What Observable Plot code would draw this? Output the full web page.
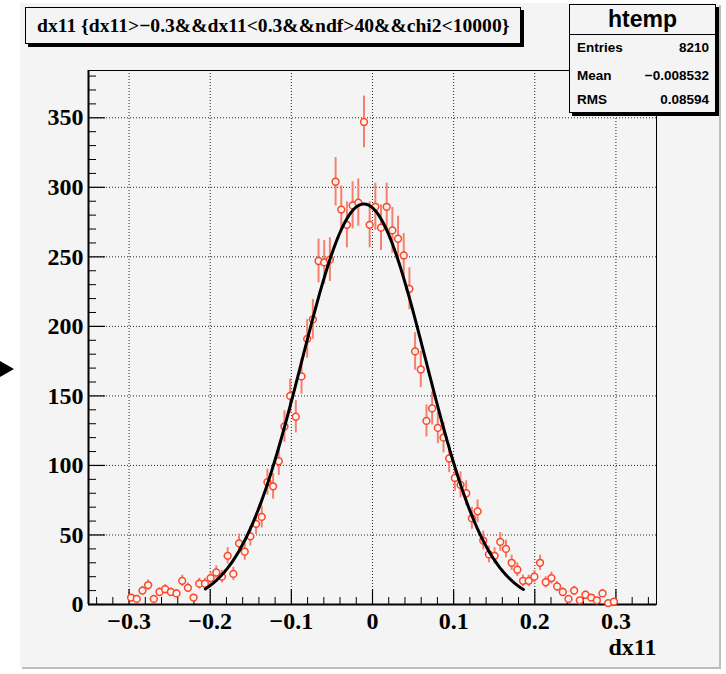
<!DOCTYPE html>
<html><head><meta charset="utf-8">
<script src="https://cdn.jsdelivr.net/npm/d3@7"></script>
<script src="https://cdn.jsdelivr.net/npm/@observablehq/plot@0.6"></script>
<style>
html,body{margin:0;padding:0;background:#fff;}
#wrap{position:relative;width:726px;height:674px;overflow:hidden;background:#fff;}
#pad{position:absolute;left:20px;top:3px;width:699px;height:664px;background:#f4f4f4;box-shadow:2px 2px 0 #bdbdbd;}
#arrow{position:absolute;left:0;top:361px;width:0;height:0;border-top:8px solid transparent;border-bottom:8px solid transparent;border-left:14px solid #000;}
#chart{position:absolute;left:0;top:0;}
#title{position:absolute;left:25px;top:7px;width:496px;height:37px;background:#f4f4f4;border:1px solid #000;box-shadow:3px 3px 0 #000;box-sizing:border-box;font:bold 19.6px "Liberation Serif",serif;line-height:35px;padding-left:11px;white-space:nowrap;color:#000;}
#stats{position:absolute;left:569px;top:4px;width:147px;height:109px;background:#f4f4f4;border:1px solid #000;box-shadow:3px 3px 0 #000;box-sizing:border-box;font-family:"Liberation Sans",Arial,sans-serif;color:#000;}
#stats .hd{position:absolute;left:0;top:0;width:100%;height:29px;border-bottom:1px solid #000;text-align:center;font-weight:bold;font-size:23px;line-height:29px;}
#stats .row{position:absolute;left:7px;right:6px;height:16px;line-height:16px;font-weight:bold;font-size:13.5px;}
#stats .row .v{position:absolute;right:0;top:0;}
</style></head>
<body>
<div id="wrap">
  <div id="pad"></div>
  <div id="arrow"></div>
  <div id="chart"></div>
  <div id="title"></div>
  <div id="stats"></div>
</div>
<script>
// ---- data ----
const titleText = "dx11 {dx11>\u22120.3&&dx11<0.3&&ndf>40&&chi2<10000}";
const histName = "htemp";
const statLabels = ["Entries", "Mean", "RMS"];
const statValues = ["8210", "\u22120.008532", "0.08594"];
const xTitle = "dx11";

// histogram binning: 100 bins on [-0.35, 0.35]; counts start at bin 7
const xMin = -0.35, xMax = 0.35, binWidth = 0.007, firstBin = 7;
const counts = [5,4,10,14,4,9,11,9,8,17,12,5,15,15,19,23,20,35,22,44,38,
  49,58,63,88,85,103,128,150,135,164,191,205,247,246,248,304,284,273,287,289,
  347,273,286,271,286,269,263,251,227,182,169,132,141,127,120,105,91,86,80,62,
  67,46,36,35,45,40,30,25,17,17,20,30,16,19,13,9,4,10,3,7,5,3,8,1,2];

// gaussian fit parameters and range
const fitConstant = 288, fitMean = -0.0106, fitSigma = 0.0767;
const fitRange = [-0.206, 0.186];

const xMajorTicks = [-0.3, -0.2, -0.1, 0, 0.1, 0.2, 0.3];
const xTickLabels = ["\u22120.3", "\u22120.2", "\u22120.1", "0", "0.1", "0.2", "0.3"];
const yMajorTicks = [0, 50, 100, 150, 200, 250, 300, 350];
const yTickLabels = ["0", "50", "100", "150", "200", "250", "300", "350"];
const yMax = 384;

// ---- derived tables ----
const points = counts.map((c, i) => ({
  x: xMin + (firstBin + i + 0.5) * binWidth,
  y: c,
  e: Math.sqrt(c)
}));
const fitCurve = d3.range(0, 201).map(k => {
  const x = fitRange[0] + (fitRange[1] - fitRange[0]) * k / 200;
  return {x, y: fitConstant * Math.exp(-0.5 * ((x - fitMean) / fitSigma) ** 2)};
});
const xMinor = d3.range(-17, 18).map(k => +(k * 0.02).toFixed(2)).filter(v => Math.abs(Math.round(v * 10) - v * 10) > 1e-6);
const yMinor = d3.range(1, 39).map(k => k * 10).filter(v => v % 50 !== 0);

const W = 726, H = 674, mL = 88, mR = 70, mT = 70, mB = 70;
const innerW = W - mL - mR, innerH = H - mT - mB;
const serif = "Liberation Serif";
const fmtX = d => xTickLabels[xMajorTicks.indexOf(d)];
const fmtY = d => yTickLabels[yMajorTicks.indexOf(d)];

const chart = Plot.plot({
  width: W, height: H,
  marginLeft: mL, marginRight: mR, marginTop: mT, marginBottom: mB,
  style: {background: "transparent", overflow: "visible"},
  x: {domain: [xMin, xMax]},
  y: {domain: [0, yMax]},
  marks: [
    Plot.gridX(xMajorTicks, {stroke: "#000", strokeOpacity: 0.85, strokeDasharray: "1,2"}),
    Plot.gridY(yMajorTicks.filter(d => d > 0), {stroke: "#000", strokeOpacity: 0.85, strokeDasharray: "1,2"}),
    Plot.frame({stroke: "#000", strokeWidth: 1}),
    Plot.tickX(xMajorTicks, {x: d => d, insetTop: innerH - 15, stroke: "#000", strokeWidth: 1.2}),
    Plot.tickX(xMinor, {x: d => d, insetTop: innerH - 7, stroke: "#000", strokeWidth: 1}),
    Plot.tickY(yMajorTicks, {y: d => d, insetRight: innerW - 17, stroke: "#000", strokeWidth: 1.2}),
    Plot.tickY(yMinor, {y: d => d, insetRight: innerW - 8, stroke: "#000", strokeWidth: 1}),
    Plot.ruleY([0], {stroke: "#000", strokeWidth: 2.2}),
    Plot.ruleX([xMin], {stroke: "#000", strokeWidth: 2}),
    Plot.axisX(xMajorTicks, {tickSize: 0, tickPadding: 7, tickFormat: fmtX, label: null,
      fontSize: 24, fontWeight: "bold", fontFamily: serif, fill: "#000"}),
    Plot.axisY(yMajorTicks, {tickSize: 0, tickPadding: 5, tickFormat: fmtY, label: null,
      fontSize: 24, fontWeight: "bold", fontFamily: serif, fill: "#000"}),
    Plot.text([xTitle], {frameAnchor: "bottom-right", dy: 50, textAnchor: "end",
      fontSize: 24, fontWeight: "bold", fontFamily: serif, fill: "#000"}),
    Plot.ruleX(points, {x: "x", y1: d => d.y - d.e, y2: d => d.y + d.e, stroke: "#f6806e", strokeWidth: 2}),
    Plot.dot(points, {x: "x", y: "y", r: 3.4, stroke: "#ff4524", strokeWidth: 1.5, fill: "#f4f4f4"}),
    Plot.line(fitCurve, {x: "x", y: "y", stroke: "#000", strokeWidth: 3, curve: "linear"})
  ]
});
document.getElementById("chart").appendChild(chart);

document.getElementById("title").textContent = titleText;
const stats = document.getElementById("stats");
const hd = document.createElement("div"); hd.className = "hd"; hd.textContent = histName; stats.appendChild(hd);
const rowTops = [35, 63, 87];
statLabels.forEach((lab, i) => {
  const r = document.createElement("div"); r.className = "row"; r.style.top = rowTops[i] + "px";
  r.textContent = lab;
  const v = document.createElement("span"); v.className = "v"; v.textContent = statValues[i];
  r.appendChild(v); stats.appendChild(r);
});
</script>
</body></html>
